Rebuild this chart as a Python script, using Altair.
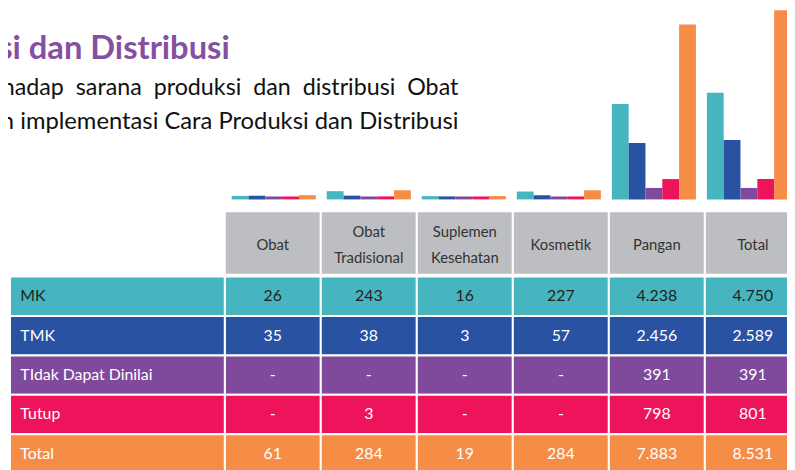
import altair as alt
import pandas as pd

# ---------------- data ----------------
categories = ["Obat", "Obat Tradisional", "Suplemen Kesehatan", "Kosmetik", "Pangan", "Total"]
header_labels = ["Obat", "Obat\nTradisional", "Suplemen\nKesehatan", "Kosmetik", "Pangan", "Total"]
statuses = ["MK", "TMK", "TIdak Dapat Dinilai", "Tutup", "Total"]
mk = [26, 243, 16, 227, 4238, 4750]
tmk = [35, 38, 3, 57, 2456, 2589]
tdd = [0, 0, 0, 0, 391, 391]
tutup = [0, 3, 0, 0, 798, 801]
total = [61, 284, 19, 284, 7883, 8531]

title_text = "si dan Distribusi"
body_line1 = "hadap sarana produksi dan distribusi Obat"
body_line2 = "n implementasi Cara Produksi dan Distribusi"

status_colors = ["#47B5BF", "#2A52A3", "#7F4A9C", "#EE145B", "#F68D47"]
text_colors = ["#231F20", "#FFFFFF", "#FFFFFF", "#FFFFFF", "#FFFFFF"]
FONT = "Lato"


def fmt(v):
    return "-" if v == 0 else f"{v:,}".replace(",", ".")


rows = []
for s, vals in zip(statuses, [mk, tmk, tdd, tutup, total]):
    for c, v in zip(categories, vals):
        rows.append({"status": s, "category": c, "value": v, "label": fmt(v)})
df = pd.DataFrame(rows)
hdr_df = pd.DataFrame({"category": categories, "header": header_labels, "row": "hdr"})
hdr_df["lines"] = hdr_df["header"].str.count("\n") + 1
lab_df = pd.DataFrame({"status": statuses, "col": "label"})

# ---------------- scales ----------------
bar_x = alt.Scale(range=[226, 791], paddingInner=0.115, paddingOuter=0)
bar_y = alt.Scale(domain=[-134, 8531], range=[191, 0], nice=False, zero=False)
tab_x = alt.Scale(domain=categories, range=[219, 801], paddingInner=0, paddingOuter=0)
tab_y = alt.Scale(domain=statuses, range=[269, 468], paddingInner=0, paddingOuter=0)
hdr_y = alt.Scale(domain=["hdr"], range=[203, 267], paddingInner=0, paddingOuter=0)
lab_x = alt.Scale(domain=["label"], range=[2, 219], paddingInner=0, paddingOuter=0)
fill_scale = alt.Scale(domain=statuses, range=status_colors)

bars = alt.Chart(df).mark_bar().encode(
    x=alt.X("category:N", sort=categories, scale=bar_x, axis=None),
    xOffset=alt.XOffset("status:N", sort=statuses,
                        scale=alt.Scale(domain=statuses, paddingInner=0, paddingOuter=0)),
    y=alt.Y("value:Q", scale=bar_y, axis=None),
    y2=alt.datum(-134),
    color=alt.Color("status:N", scale=fill_scale, legend=None),
)

hdr_rect = alt.Chart(hdr_df).mark_rect(color="#BDBEC1", stroke="white", strokeWidth=2).encode(
    x=alt.X("category:N", scale=tab_x, axis=None),
    y=alt.Y("row:N", scale=hdr_y, axis=None),
)


def header_text(n_lines, dy):
    return alt.Chart(hdr_df).transform_filter(
        alt.datum.lines == n_lines
    ).mark_text(
        font=FONT, fontSize=15, color="#333333", lineBreak="\n", lineHeight=26,
        baseline="middle", dy=dy
    ).encode(
        x=alt.X("category:N", scale=tab_x, axis=None),
        y=alt.Y("row:N", scale=hdr_y, axis=None),
        text="header:N",
    )


hdr_text1 = header_text(1, 2)
hdr_text2 = header_text(2, -11)

cell_rect = alt.Chart(df).mark_rect(stroke="white", strokeWidth=2).encode(
    x=alt.X("category:N", scale=tab_x, axis=None),
    y=alt.Y("status:N", scale=tab_y, axis=None),
    color=alt.Color("status:N", scale=fill_scale, legend=None),
)
cell_text = alt.Chart(df).mark_text(font=FONT, fontSize=16, baseline="middle").encode(
    x=alt.X("category:N", scale=tab_x, axis=None),
    y=alt.Y("status:N", scale=tab_y, axis=None),
    text="label:N",
    color=alt.Color("status:N", scale=alt.Scale(domain=statuses, range=text_colors), legend=None),
)

lab_rect = alt.Chart(lab_df).mark_rect(stroke="white", strokeWidth=2).encode(
    x=alt.X("col:N", scale=lab_x, axis=None),
    y=alt.Y("status:N", scale=tab_y, axis=None),
    color=alt.Color("status:N", scale=fill_scale, legend=None),
)
lab_text = alt.Chart(lab_df).mark_text(
    font=FONT, fontSize=16, baseline="middle", align="left", dx=-98
).encode(
    x=alt.X("col:N", scale=lab_x, axis=None),
    y=alt.Y("status:N", scale=tab_y, axis=None),
    text="status:N",
    color=alt.Color("status:N", scale=alt.Scale(domain=statuses, range=text_colors), legend=None),
)

title_mark = alt.Chart(pd.DataFrame({"t": [title_text]})).mark_text(
    font=FONT, fontSize=33, fontWeight="bold", color="#8650A2", align="right", baseline="alphabetic"
).encode(x=alt.value(224), y=alt.value(49), text="t:N")

body1 = alt.Chart(pd.DataFrame({"t": [body_line1.replace(" ", " \u00a0")]})).mark_text(
    font=FONT, fontSize=23.5, color="#111111", align="right", baseline="alphabetic"
).encode(x=alt.value(455), y=alt.value(86), text="t:N")

body2 = alt.Chart(pd.DataFrame({"t": [body_line2]})).mark_text(
    font=FONT, fontSize=24, color="#111111", align="right", baseline="alphabetic"
).encode(x=alt.value(455), y=alt.value(120), text="t:N")

chart = alt.layer(
    bars, hdr_rect, hdr_text1, hdr_text2, cell_rect, cell_text, lab_rect, lab_text,
    title_mark, body1, body2
).resolve_scale(
    x="independent", y="independent", color="independent"
).properties(
    width=787, height=462, padding=0,
    autosize=alt.AutoSizeParams(type="none"),
    background="white",
).configure_view(stroke=None)

chart.save("out.html", embed_options={"renderer": "svg", "actions": False})
